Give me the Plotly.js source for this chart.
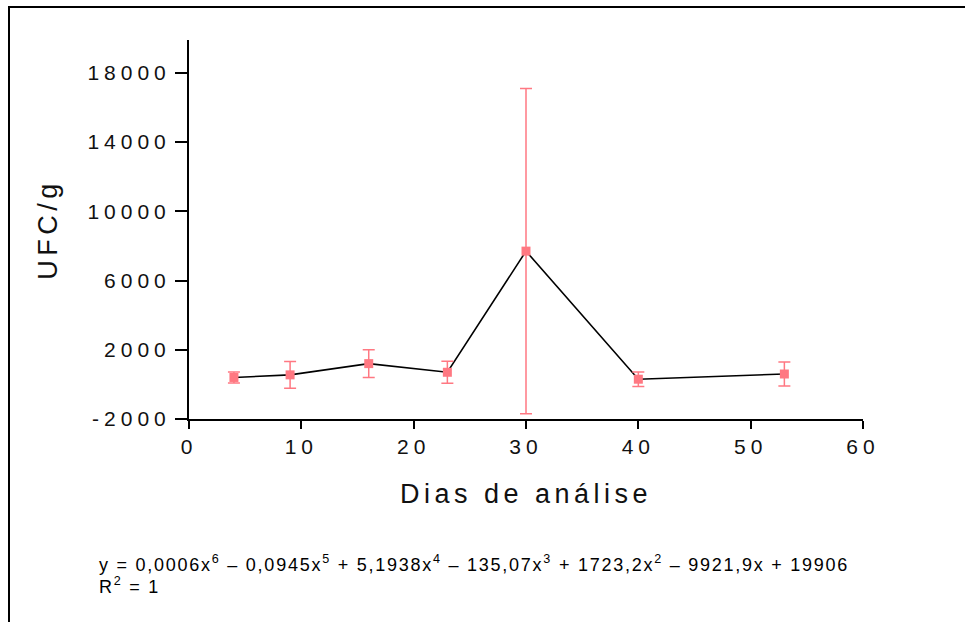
<!DOCTYPE html>
<html>
<head>
<meta charset="utf-8">
<script src="https://cdn.plot.ly/plotly-3.0.1.min.js"></script>
<style>
  html, body { margin: 0; padding: 0; background: #ffffff; }
  #wrap { position: relative; width: 965px; height: 622px; }
  #chart { width: 965px; height: 622px; }
  #frame { position: absolute; left: 8px; top: 6px; right: 0; bottom: 0;
           border-top: 2px solid #000; border-left: 2px solid #000; pointer-events: none; }
  .xtick text, .ytick text { letter-spacing: 5px; }
  .g-xtitle text, .g-ytitle text { letter-spacing: 4.5px; }
  .annotation-text { letter-spacing: 1.75px; }
</style>
</head>
<body>
<div id="wrap">
  <div id="chart"></div>
  <div id="frame"></div>
</div>
<script>
// Data
const days = [4, 9, 16, 23, 30, 40, 53];
const ufc = [400, 550, 1200, 700, 7700, 300, 600];
const ufcErr = [320, 770, 800, 640, 9400, 420, 690];

const yTickVals = [-2000, 2000, 6000, 10000, 14000, 18000];
const yTickText = ['-2000', '2000', '6000', '10000', '14000', '18000'];
const xTickVals = [0, 10, 20, 30, 40, 50, 60];

const xTitle = 'Dias de análise';
const yTitle = 'UFC/g';
const equationLine1 = 'y = 0,0006x<sup>6</sup> – 0,0945x<sup>5</sup> + 5,1938x<sup>4</sup> – 135,07x<sup>3</sup> + 1723,2x<sup>2</sup> – 9921,9x + 19906';
const equationLine2 = 'R<sup>2</sup> = 1';

const pink = 'rgb(255,120,130)';

const traces = [
  {
    x: days, y: ufc, type: 'scatter', mode: 'lines',
    line: { color: '#000000', width: 1.6 },
    hoverinfo: 'skip', showlegend: false
  },
  {
    x: days, y: ufc, type: 'scatter', mode: 'markers',
    marker: { symbol: 'square', size: 9, color: pink },
    error_y: { type: 'data', array: ufcErr, visible: true, color: pink, thickness: 1.5, width: 6 },
    showlegend: false
  }
];

const fam = 'Arial, "Liberation Sans", sans-serif';
const axisFont = { family: fam, size: 21, color: '#111' };
const eqFont = { family: fam, size: 18, color: '#000' };

const layout = {
  width: 965, height: 622,
  margin: { l: 189, r: 102, t: 40, b: 203 },
  paper_bgcolor: '#ffffff', plot_bgcolor: '#ffffff',
  showlegend: false,
  xaxis: {
    range: [0, 60], tickvals: xTickVals, ticktext: xTickVals.map(String),
    showgrid: false, zeroline: false, showline: true, linecolor: '#000', linewidth: 2,
    ticks: 'outside', ticklen: 8, tickwidth: 2, tickcolor: '#000',
    tickfont: axisFont,
    title: { text: xTitle, font: { family: fam, size: 27, color: '#111' }, standoff: 27 },
    automargin: false
  },
  yaxis: {
    range: [-2000, 19900], tickvals: yTickVals, ticktext: yTickText,
    showgrid: false, zeroline: false, showline: true, linecolor: '#000', linewidth: 2,
    ticks: 'outside', ticklen: 12, tickwidth: 2, tickcolor: '#000',
    tickfont: axisFont,
    title: { text: yTitle, font: { family: fam, size: 27, color: '#111' }, standoff: 22 },
    automargin: false
  },
  annotations: [
    {
      xref: 'paper', yref: 'paper',
      x: (97 - 189) / 674, y: (419 - 563) / 379,
      xanchor: 'left', yanchor: 'middle', align: 'left',
      showarrow: false, text: equationLine1, font: eqFont
    },
    {
      xref: 'paper', yref: 'paper',
      x: (97 - 189) / 674, y: (419 - 585) / 379,
      xanchor: 'left', yanchor: 'middle', align: 'left',
      showarrow: false, text: equationLine2, font: eqFont
    }
  ]
};

Plotly.newPlot('chart', traces, layout, { displayModeBar: false, staticPlot: true });
</script>
</body>
</html>
